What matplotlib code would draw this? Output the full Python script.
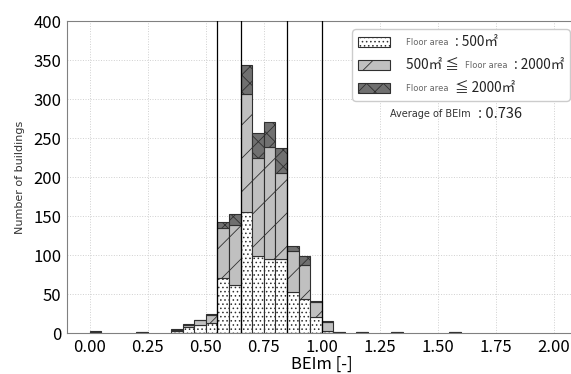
import matplotlib
matplotlib.use('Agg')
import numpy as np
import matplotlib.pyplot as plt
from matplotlib.patches import Rectangle
from matplotlib.offsetbox import (AnchoredOffsetbox, DrawingArea, HPacker,
                                  VPacker, TextArea)

# bin left edges (width 0.05) and counts per floor-area class
bin_left = [0.00, 0.20, 0.35, 0.40, 0.45, 0.50, 0.55, 0.60, 0.65, 0.70,
            0.75, 0.80, 0.85, 0.90, 0.95, 1.00, 1.05, 1.15, 1.30, 1.55]
small = [0, 0, 3, 8, 10, 13, 70, 62, 155, 99, 95, 95, 53, 43, 21, 3, 0, 0, 0, 0]
middle = [1, 1, 1, 2, 7, 10, 65, 76, 151, 126, 143, 110, 52, 44, 19, 11, 1, 1, 1, 1]
large = [2, 0, 1, 1, 0, 1, 7, 15, 38, 32, 32, 32, 7, 12, 1, 1, 0, 0, 0, 0]
thresholds = [0.55, 0.65, 0.85, 1.00]
average = 0.736

plt.rcParams['font.family'] = ['Noto Sans CJK JP', 'DejaVu Sans']
plt.rcParams['hatch.linewidth'] = 0.6

fig = plt.figure(figsize=(5.71, 3.74), dpi=100)
ax = fig.add_axes([0.1168, 0.1096, 0.8932, 0.8342])

c_small = 'white'
c_mid = '#c0c0c0'
c_large = '#707070'
edge = '#303030'

x = np.array(bin_left)
s = np.array(small)
m = np.array(middle)
l = np.array(large)
ax.bar(x, s, width=0.05, align='edge', color=c_small, edgecolor=edge,
       hatch='....', linewidth=0.8)
ax.bar(x, m, width=0.05, align='edge', bottom=s, color=c_mid, edgecolor=edge,
       hatch='/', linewidth=0.8)
ax.bar(x, l, width=0.05, align='edge', bottom=s + m, color=c_large,
       edgecolor=edge, hatch='xx', linewidth=0.8)

for t in thresholds:
    ax.axvline(t, color='black', linewidth=0.9, zorder=3)

ax.set_xlim(-0.1, 2.1)
ax.set_ylim(0, 400)
ax.set_xticks(np.arange(0, 2.01, 0.25))
ax.set_xticklabels(['%.2f' % v for v in np.arange(0, 2.01, 0.25)])
ax.set_yticks(np.arange(0, 401, 50))
ax.tick_params(axis='both', length=0, labelsize=12, pad=4)
ax.grid(True, linestyle=':', color='#d0d0d0', linewidth=0.7)
ax.set_axisbelow(True)
for sp in ['left', 'bottom', 'top', 'right']:
    ax.spines[sp].set_color('#808080')

ax.set_ylabel('Number of buildings', family='DejaVu Sans', fontsize=8,
              color='#333333', labelpad=6)
ax.set_xlabel('BEIm [-]', fontsize=12, labelpad=0)

# legend with mixed font sizes
small_font = dict(family='DejaVu Sans', size=6, color='#666666')
big_font = dict(family=['Noto Sans CJK JP', 'DejaVu Sans'], size=9.8,
                color='#222222')


def handle(color, hatch):
    da = DrawingArea(23, 7, 0, 0)
    da.add_artist(Rectangle((0, 0), 23, 7, facecolor=color, edgecolor=edge,
                            hatch=hatch, linewidth=0.8))
    return da


def row(patch, parts):
    kids = [patch, DrawingArea(3, 1, 0, 0)]
    for txt, big in parts:
        kids.append(TextArea(txt, textprops=big_font if big else small_font))
    return HPacker(children=kids, align='center', pad=0, sep=4.5)


rows = [
    row(handle(c_small, '....'), [('Floor area', False), (': 500㎡', True)]),
    row(handle(c_mid, '/'), [('500㎡ ≦', True), ('Floor area', False),
                              (': 2000㎡', True)]),
    row(handle(c_large, 'xx'), [('Floor area', False), ('≦ 2000㎡', True)]),
]
box = VPacker(children=rows, align='left', pad=0, sep=6.5)
anch = AnchoredOffsetbox(loc='upper right', child=box, pad=0.42, borderpad=0,
                         frameon=True, bbox_to_anchor=(0.999, 0.922),
                         bbox_transform=fig.transFigure)
anch.patch.set_boxstyle('round,pad=0,rounding_size=0.3')
anch.patch.set_edgecolor('#cccccc')
anch.patch.set_facecolor('white')
ax.add_artist(anch)

avg = HPacker(children=[
    TextArea('Average of BEIm', textprops=dict(family='DejaVu Sans', size=7,
                                               color='#333333')),
    TextArea(': %.3f' % average, textprops=dict(size=10.5, color='#222222'))],
    align='center', pad=0, sep=5)
anch2 = AnchoredOffsetbox(loc='upper left', child=avg, pad=0, borderpad=0,
                          frameon=False, bbox_to_anchor=(0.683, 0.715),
                          bbox_transform=fig.transFigure)
ax.add_artist(anch2)

fig.savefig('out.png', dpi=100)
